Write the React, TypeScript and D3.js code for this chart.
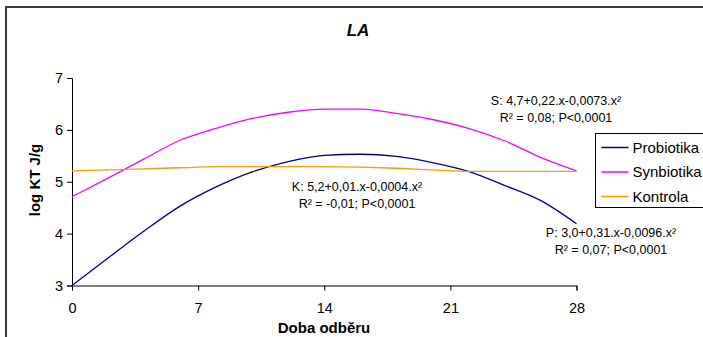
import React, { useEffect, useRef } from 'react';
import * as d3 from 'd3';

// sampling days and read-off values (log KTJ/g)
const days = [0, 2, 4, 6, 8, 10, 12, 14, 16, 18, 20, 22, 24, 26, 28];
const probiotika = [3.0, 3.53, 4.05, 4.53, 4.9, 5.19, 5.39, 5.51, 5.53, 5.49, 5.37, 5.2, 4.93, 4.64, 4.19];
const synbiotika = [4.71, 5.07, 5.44, 5.8, 6.03, 6.22, 6.34, 6.4, 6.4, 6.32, 6.2, 6.03, 5.79, 5.47, 5.21];
const kontrola = [5.21, 5.23, 5.25, 5.27, 5.29, 5.29, 5.29, 5.29, 5.28, 5.26, 5.23, 5.2, 5.2, 5.2, 5.2];

const xTicks = [0, 7, 14, 21, 28];
const yTicks = [3, 4, 5, 6, 7];

const seriesNames = ['Probiotika', 'Synbiotika', 'Kontrola'];
const seriesColors = ['#000080', '#ff00ff', '#ff9900'];

const eqS = ['S: 4,7+0,22.x-0,0073.x²', 'R² = 0,08; P<0,0001'];
const eqK = ['K: 5,2+0,01.x-0,0004.x²', 'R² = -0,01; P<0,0001'];
const eqP = ['P: 3,0+0,31.x-0,0096.x²', 'R² = 0,07; P<0,0001'];

export default function App() {
  const ref = useRef<SVGSVGElement>(null);

  useEffect(() => {
    const svg = d3.select(ref.current);
    svg.selectAll('*').remove();
    const font = 'Arial, "Liberation Sans", sans-serif';

    // outer chart frame
    svg.append('rect')
      .attr('x', 6).attr('y', 7)
      .attr('width', 760).attr('height', 400)
      .attr('fill', 'white')
      .attr('stroke', '#3a3a3a').attr('stroke-width', 2);

    const x = d3.scaleLinear().domain([0, 28]).range([72, 576.5]);
    const y = d3.scaleLinear().domain([3, 7]).range([285.5, 78]);

    svg.append('text')
      .attr('x', 358).attr('y', 36)
      .attr('text-anchor', 'middle')
      .style('font-family', font).style('font-size', '17px')
      .style('font-weight', 'bold').style('font-style', 'italic')
      .text('LA');

    const xAxis = svg.append('g')
      .attr('transform', 'translate(0,' + y(3) + ')')
      .call(d3.axisBottom(x).tickValues(xTicks).tickSizeOuter(0).tickSize(5).tickPadding(12));
    const yAxis = svg.append('g')
      .attr('transform', 'translate(' + x(0) + ',0)')
      .call(d3.axisLeft(y).tickValues(yTicks).tickFormat(d3.format('d')).tickSizeOuter(0).tickSize(5).tickPadding(4));
    [xAxis, yAxis].forEach(a => {
      a.selectAll('path,line').attr('stroke', '#000');
      a.selectAll('text').style('font-family', font).style('font-size', '14.5px').attr('fill', '#000');
    });

    svg.append('text')
      .attr('x', 324).attr('y', 333)
      .attr('text-anchor', 'middle')
      .style('font-family', font).style('font-size', '15px').style('font-weight', 'bold')
      .text('Doba odběru');

    svg.append('text')
      .attr('transform', 'translate(40,180) rotate(-90)')
      .attr('text-anchor', 'middle')
      .style('font-family', font).style('font-size', '15px').style('font-weight', 'bold')
      .text('log KT J/g');

    const line = d3.line<number>()
      .x((d, i) => x(days[i]))
      .y(d => y(d))
      .curve(d3.curveMonotoneX);

    [probiotika, synbiotika, kontrola].forEach((vals, i) => {
      svg.append('path')
        .datum(vals)
        .attr('d', line)
        .attr('fill', 'none')
        .attr('stroke', seriesColors[i])
        .attr('stroke-width', 1.3);
    });

    const notes: [string[], number, number][] = [[eqS, 556, 105], [eqK, 357, 190.5], [eqP, 611, 236.5]];
    notes.forEach(([lines, nx, ny]) => {
      lines.forEach((t, j) => {
        svg.append('text')
          .attr('x', nx).attr('y', ny + j * 17)
          .attr('text-anchor', 'middle')
          .style('font-family', font).style('font-size', '12.5px')
          .text(t);
      });
    });

    // legend
    const lg = svg.append('g').attr('transform', 'translate(595.5,133.5)');
    lg.append('rect')
      .attr('width', 140).attr('height', 74)
      .attr('fill', 'white').attr('stroke', '#000').attr('stroke-width', 1);
    seriesNames.forEach((name, i) => {
      const ly = 14 + i * 24.5;
      lg.append('line')
        .attr('x1', 6).attr('x2', 33).attr('y1', ly).attr('y2', ly)
        .attr('stroke', seriesColors[i]).attr('stroke-width', 1.5);
      lg.append('text')
        .attr('x', 37).attr('y', ly + 5)
        .style('font-family', font).style('font-size', '15px')
        .text(name);
    });
  }, []);

  return (
    <svg ref={ref} width={703} height={337}
      style={{ position: 'absolute', left: 0, top: 0, background: 'white' }} />
  );
}
